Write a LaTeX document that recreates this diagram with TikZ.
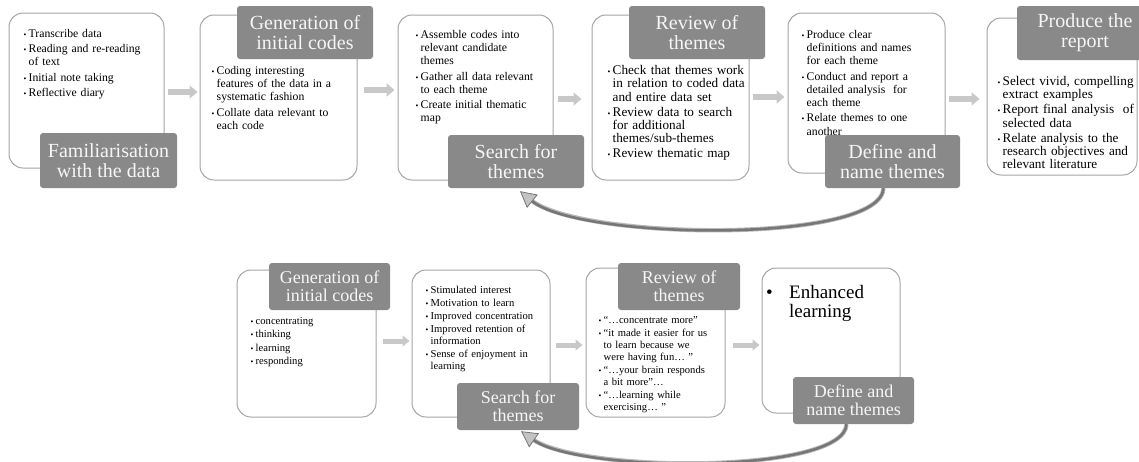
\documentclass[tikz,border=0pt]{standalone}
\usepackage{fontspec}
\setmainfont{Liberation Serif}
\usetikzlibrary{arrows.meta,calc}
\definecolor{lblfill}{RGB}{137,137,137}
\definecolor{boxline}{RGB}{165,165,165}
\definecolor{blkgray}{RGB}{200,200,200}
\definecolor{curvedark}{RGB}{118,118,118}
\definecolor{curvelight}{RGB}{185,185,185}
\definecolor{tipfill}{RGB}{195,195,195}
\definecolor{lbltext}{RGB}{246,246,246}
\newlength{\bulw}
\newlength{\myitemgap}
\newcommand{\mybr}{\hfil\break}
\newcommand{\bitem}[1]{\noindent\hangindent=\bulw\hangafter=1\hbox to\bulw{{\fontsize{8}{8}\selectfont •}\hss}#1\par\vskip\myitemgap}
\tikzset{
  box/.style={draw=boxline, line width=1pt, rounded corners=14pt, fill=white, inner sep=0pt},
  lbl/.style={fill=lblfill, rounded corners=3pt, text=lbltext, align=center, inner sep=0pt,
              font=\fontsize{20}{20}\selectfont},
  lblsm/.style={lbl, font=\fontsize{18}{18}\selectfont},
  txttop/.style={anchor=north west, inner sep=0pt, text width=160pt,
              font=\fontsize{11.7}{13.2}\selectfont\setlength{\bulw}{5pt}\setlength{\myitemgap}{2.2pt}},
  txttopl/.style={anchor=north west, inner sep=0pt, text width=160pt,
              font=\fontsize{13.2}{13.3}\selectfont\setlength{\bulw}{5pt}\setlength{\myitemgap}{1.7pt}},
  txtbot/.style={anchor=north west, inner sep=0pt, text width=150pt,
              font=\fontsize{10.6}{11.7}\selectfont\setlength{\bulw}{5pt}\setlength{\myitemgap}{1.5pt}},
  blk/.style={draw=blkgray, line width=6pt, -{Triangle[length=8pt,width=13pt]}},
  curvebase/.style={draw=curvelight, line width=4.4pt},
  curvetop/.style={draw=curvedark, line width=2.6pt,
     -{Triangle[length=16pt,width=17pt,line width=0.8pt,fill=tipfill]}},
}
\begin{document}
\begin{tikzpicture}[x=1pt,y=-1pt]
\useasboundingbox (0,0) rectangle (1139,461);
% ---------- top row boxes ----------
\node[box, minimum width=155, minimum height=155] (b1) at (86.5,90.5) {};
\node[box, minimum width=157, minimum height=165] (b2) at (278.5,97.5) {};
\node[box, minimum width=155, minimum height=165] (b3) at (475.5,97.5) {};
\node[box, minimum width=157, minimum height=165] (b4) at (670.5,97.5) {};
\node[box, minimum width=157, minimum height=160] (b5) at (866.5,93) {};
\node[box, minimum width=150, minimum height=157] (b6) at (1062,96.5) {};
% ---------- top row texts ----------
\node[txttop] (t1) at (23.5,29) {%
\bitem{Transcribe data}
\bitem{Reading and re-reading\mybr of text}
\bitem{Initial note taking}
\bitem{Reflective diary}};
\node[txttop] (t2) at (211.5,66) {%
\bitem{Coding interesting\mybr features of the data in a\mybr systematic fashion}
\bitem{Collate data relevant to\mybr each code}};
\node[txttop] (t3) at (415.5,30) {%
\bitem{Assemble codes into\mybr relevant candidate\mybr themes}
\bitem{Gather all data relevant\mybr to each theme}
\bitem{Create initial thematic\mybr map}};
\node[txttopl] (t4) at (607.5,65.3) {%
\bitem{Check that themes work\mybr in relation to coded data\mybr and entire data set}
\bitem{Review data to search\mybr for additional\mybr themes/sub-themes}
\bitem{Review thematic map}};
\node[txttop] (t5) at (801.5,30) {%
\bitem{Produce clear\mybr definitions and names\mybr for each theme}
\bitem{Conduct and report a\mybr detailed analysis~ for\mybr each theme}
\bitem{Relate themes to one\mybr another}};
\node[txttopl] (t6) at (997.5,76.3) {%
\bitem{Select vivid, compelling\mybr extract examples}
\bitem{Report final analysis~ of\mybr selected data}
\bitem{Relate analysis to the\mybr research objectives and\mybr relevant literature}};
% ---------- top row labels ----------
\node[lbl, minimum width=137, minimum height=55] (l1) at (108.5,160.5) {Familiarisation\\with the data};
\node[lbl, minimum width=136, minimum height=53] (l2) at (305,32.5) {Generation of\\initial codes};
\node[lbl, minimum width=136, minimum height=53] (l3) at (516,161.5) {Search for\\themes};
\node[lbl, minimum width=136, minimum height=53] (l4) at (697,32.5) {Review of\\themes};
\node[lbl, minimum width=135, minimum height=53] (l5) at (892.5,161.5) {Define and\\name themes};
\node[lbl, minimum width=136, minimum height=54] (l6) at (1085,33) {Produce the\\report};
% ---------- top row block arrows ----------
\coordinate (r1) at (0,92);
\coordinate (r2) at (0,90);
\coordinate (r3) at (0,99);
\coordinate (r4) at (0,97);
\coordinate (r5) at (0,99);
\draw[blk, shorten <=3pt, shorten >=2pt] (b1.east |- r1) -- (b2.west |- r1);
\draw[blk, shorten <=6pt, shorten >=3pt] (b2.east |- r2) -- (b3.west |- r2);
\draw[blk, shorten <=4pt, shorten >=10pt] (b3.east |- r3) -- (b4.west |- r3);
\draw[blk, shorten <=3pt, shorten >=3pt] (b4.east |- r4) -- (b5.west |- r4);
\draw[blk, shorten <=3pt, shorten >=7pt] (b5.east |- r5) -- (b6.west |- r5);
% ---------- top curved arrow ----------
\draw[curvebase, shorten >=14pt] ([xshift=-9pt]l5.south) .. controls +(-3,56) and +(60,49) .. ([xshift=4pt,yshift=-3pt]l3.south);
\draw[curvetop] ([xshift=-9pt]l5.south) .. controls +(-3,56) and +(60,49) .. ([xshift=4pt,yshift=-3pt]l3.south);
% ---------- bottom row boxes ----------
\node[box, minimum width=139, minimum height=147] (c1) at (306.5,343.5) {};
\node[box, minimum width=138, minimum height=147] (c2) at (481,343.5) {};
\node[box, minimum width=139, minimum height=149] (c3) at (655.5,342.5) {};
\node[box, minimum width=138, minimum height=145] (c4) at (831,340.5) {};
% ---------- bottom row texts ----------
\node[txtbot] (u1) at (250.5,317.5) {%
\bitem{concentrating}
\bitem{thinking}
\bitem{learning}
\bitem{responding}};
\node[txtbot] (u2) at (425.5,285.5) {%
\bitem{Stimulated interest}
\bitem{Motivation to learn}
\bitem{Improved concentration}
\bitem{Improved retention of\mybr information}
\bitem{Sense of enjoyment in\mybr learning}};
\node[txtbot] (u3) at (598.5,316.5) {%
\bitem{“…concentrate more”}
\bitem{“it made it easier for us\mybr to learn because we\mybr were having fun… ”}
\bitem{“…your brain responds\mybr a bit more”…}
\bitem{“…learning while\mybr exercising… ”}};
\node[anchor=north west, inner sep=0pt, text width=130pt, font=\fontsize{19}{19}\selectfont] (u4) at (766,285)
  {\noindent\hangindent=23pt\hangafter=1\hbox to 23pt{•\hss}Enhanced\mybr learning\par};
% ---------- bottom row labels ----------
\node[lblsm, minimum width=121, minimum height=47] (m1) at (329.5,286.5) {Generation of\\initial codes};
\node[lblsm, minimum width=122, minimum height=47] (m2) at (518,406.5) {Search for\\themes};
\node[lblsm, minimum width=122, minimum height=47] (m3) at (679,286.5) {Review of\\themes};
\node[lblsm, minimum width=121, minimum height=47] (m4) at (853.5,400.5) {Define and\\name themes};
% ---------- bottom row block arrows ----------
\coordinate (s1) at (0,341);
\coordinate (s2) at (0,345);
\coordinate (s3) at (0,345);
\draw[blk, line width=5pt, -{Triangle[length=7pt,width=11pt]}, shorten <=6pt, shorten >=2pt] (c1.east |- s1) -- (c2.west |- s1);
\draw[blk, line width=5pt, -{Triangle[length=7pt,width=11pt]}, shorten <=5pt, shorten >=3pt] (c2.east |- s2) -- (c3.west |- s2);
\draw[blk, line width=5pt, -{Triangle[length=7pt,width=11pt]}, shorten <=7pt, shorten >=2pt] (c3.east |- s3) -- (c4.west |- s3);
% ---------- bottom curved arrow ----------
\draw[curvebase, shorten >=14pt] ([xshift=-7pt]m4.south) .. controls +(-2,50) and +(60,42) .. ([xshift=3pt,yshift=-1pt]m2.south);
\draw[curvetop] ([xshift=-7pt]m4.south) .. controls +(-2,50) and +(60,42) .. ([xshift=3pt,yshift=-1pt]m2.south);
\end{tikzpicture}
\end{document}
